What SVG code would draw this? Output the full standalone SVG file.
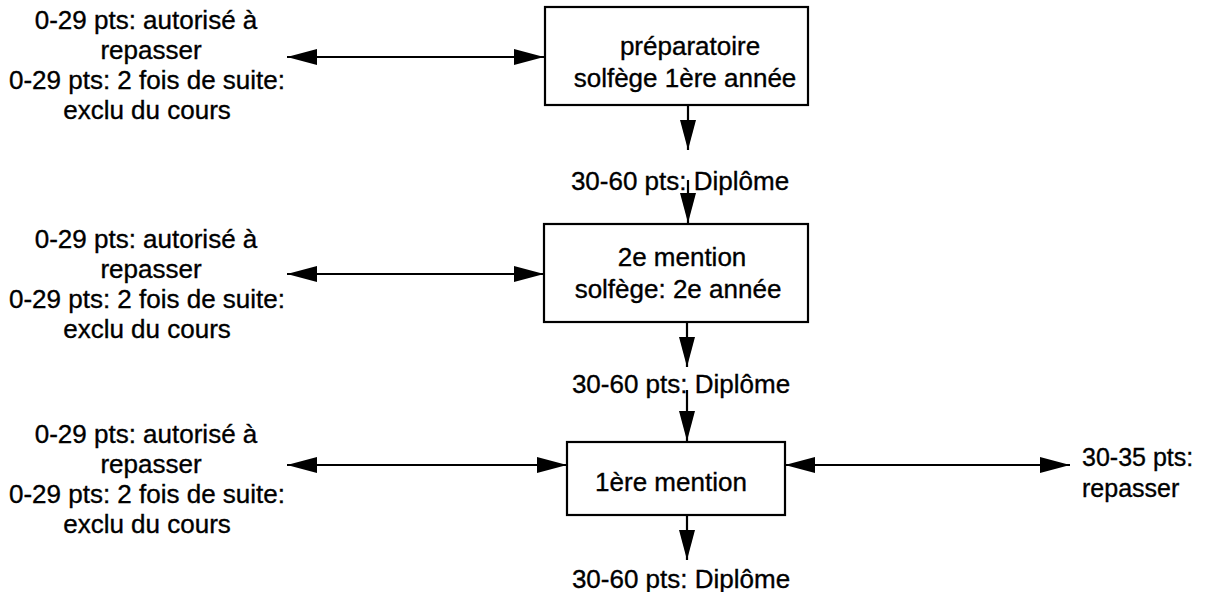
<svg xmlns="http://www.w3.org/2000/svg" width="1205" height="592" viewBox="0 0 1205 592">
<style>
text{font-family:"Liberation Sans",Arial,sans-serif;font-size:26px;fill:#000;stroke:#000;stroke-width:0.35}
.c{text-anchor:middle}
.r{font-size:25px}
.box{fill:#fff;stroke:#000;stroke-width:2.2}
.ln{stroke:#000;stroke-width:2.2;fill:none}
</style>
<defs>
<marker id="ah" markerUnits="userSpaceOnUse" markerWidth="32" markerHeight="18" refX="30" refY="8" orient="auto-start-reverse" viewBox="0 0 32 16">
<path d="M0,0 L30,8 L0,16 Z" fill="#000"/>
</marker>
</defs>
<rect width="1205" height="592" fill="#fff"/>
<g id="connectors">
<line class="ln" x1="287" y1="57" x2="544" y2="57" marker-start="url(#ah)" marker-end="url(#ah)"/>
<line class="ln" x1="688" y1="105" x2="688" y2="150" marker-end="url(#ah)"/>
<line class="ln" x1="688" y1="180" x2="688" y2="223" marker-end="url(#ah)"/>
<line class="ln" x1="287" y1="274" x2="544" y2="274" marker-start="url(#ah)" marker-end="url(#ah)"/>
<line class="ln" x1="687" y1="322" x2="687" y2="367" marker-end="url(#ah)"/>
<line class="ln" x1="687" y1="390" x2="687" y2="441" marker-end="url(#ah)"/>
<line class="ln" x1="287" y1="465" x2="567" y2="465" marker-start="url(#ah)" marker-end="url(#ah)"/>
<line class="ln" x1="785" y1="465" x2="1070" y2="465" marker-start="url(#ah)" marker-end="url(#ah)"/>
<line class="ln" x1="687" y1="515" x2="687" y2="560" marker-end="url(#ah)"/>
</g>
<g id="node-preparatoire">
<rect class="box" x="545" y="7" width="263" height="98"/>
<text class="c" x="690" y="55">préparatoire</text>
<text class="c" x="685" y="87">solfège 1ère année</text>
</g>
<g id="label-diplome-1">
<text class="c" x="680" y="190">30-60 pts: Diplôme</text>
</g>
<g id="node-2e-mention">
<rect class="box" x="544" y="224" width="264" height="98"/>
<text class="c" x="682" y="266">2e mention</text>
<text class="c" x="678" y="298">solfège: 2e année</text>
</g>
<g id="label-diplome-2">
<text class="c" x="681" y="393">30-60 pts: Diplôme</text>
</g>
<g id="node-1ere-mention">
<rect class="box" x="567" y="442" width="218" height="73"/>
<text class="c" x="671" y="491">1ère mention</text>
</g>
<g id="label-diplome-3">
<text class="c" x="681" y="588">30-60 pts: Diplôme</text>
</g>
<g id="label-left-1">
<text class="c" x="146" y="29">0-29 pts: autorisé à</text>
<text class="c" x="151" y="59">repasser</text>
<text class="c" x="147" y="89">0-29 pts: 2 fois de suite:</text>
<text class="c" x="147" y="119">exclu du cours</text>
</g>
<g id="label-left-2">
<text class="c" x="146" y="248">0-29 pts: autorisé à</text>
<text class="c" x="151" y="278">repasser</text>
<text class="c" x="147" y="308">0-29 pts: 2 fois de suite:</text>
<text class="c" x="147" y="338">exclu du cours</text>
</g>
<g id="label-left-3">
<text class="c" x="146" y="443">0-29 pts: autorisé à</text>
<text class="c" x="151" y="473">repasser</text>
<text class="c" x="147" y="503">0-29 pts: 2 fois de suite:</text>
<text class="c" x="147" y="533">exclu du cours</text>
</g>
<g id="label-right">
<text class="r" x="1082" y="466">30-35 pts:</text>
<text class="r" x="1082" y="497">repasser</text>
</g>
</svg>
